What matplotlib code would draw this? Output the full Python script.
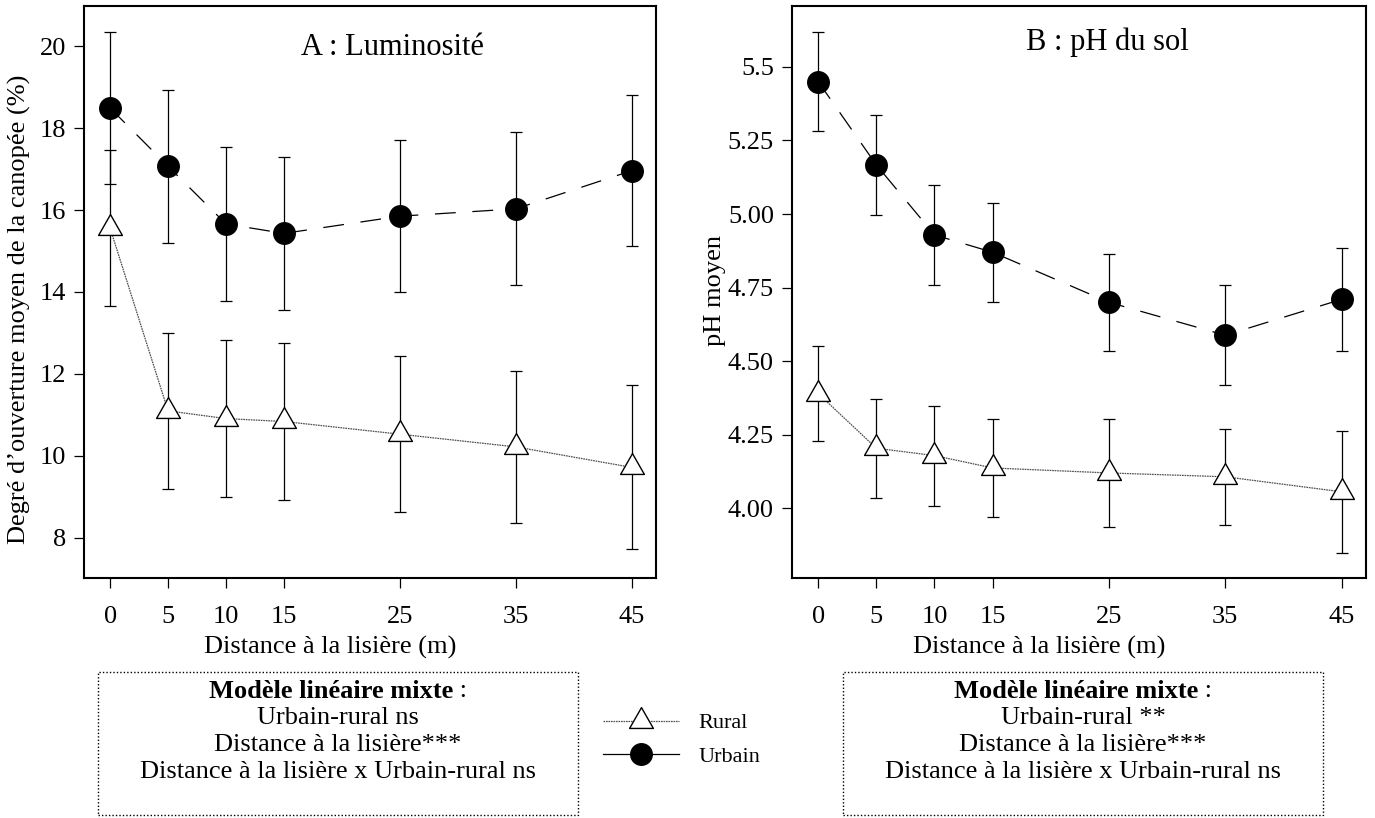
import matplotlib
matplotlib.use("Agg")
import matplotlib.pyplot as plt
from matplotlib.path import Path
from matplotlib.lines import Line2D
from matplotlib.patches import Rectangle

plt.rcParams['font.family'] = ['Liberation Serif', 'DejaVu Serif']
plt.rcParams['lines.scale_dashes'] = False

# ---------------- data ----------------
distances = [0, 5, 10, 15, 25, 35, 45]

lum_rural = [15.56, 11.10, 10.91, 10.84, 10.53, 10.22, 9.72]
lum_rural_err = [1.90, 1.90, 1.91, 1.91, 1.90, 1.86, 2.00]
lum_urbain = [18.49, 17.07, 15.66, 15.43, 15.85, 16.03, 16.96]
lum_urbain_err = [1.86, 1.87, 1.87, 1.87, 1.86, 1.87, 1.84]

ph_rural = [4.39, 4.204, 4.179, 4.137, 4.12, 4.107, 4.056]
ph_rural_err = [0.16, 0.168, 0.17, 0.168, 0.185, 0.163, 0.207]
ph_urbain = [5.45, 5.167, 4.929, 4.87, 4.70, 4.588, 4.71]
ph_urbain_err = [0.169, 0.17, 0.17, 0.169, 0.165, 0.17, 0.175]

lum_yticks = [8, 10, 12, 14, 16, 18, 20]
lum_yticklabels = ['8', '10', '12', '14', '16', '18', '20']
ph_yticks = [4.00, 4.25, 4.50, 4.75, 5.00, 5.25, 5.5]
ph_yticklabels = ['4.00', '4.25', '4.50', '4.75', '5.00', '5.25', '5.5']

title_A = "A : Luminosité"
title_B = "B : pH du sol"
ylabel_A = "Degré d\u2019ouverture moyen de la canopée (%)"
ylabel_B = "pH moyen"
xlabel = "Distance à la lisière (m)"
box_A = ["Urbain-rural ns", "Distance à la lisière***",
         "Distance à la lisière x Urbain-rural ns"]
box_B = ["Urbain-rural **", "Distance à la lisière***",
         "Distance à la lisière x Urbain-rural ns"]
legend_labels = ["Rural", "Urbain"]

# ---------------- figure ----------------
W, H = 1375, 818
fig = plt.figure(figsize=(W / 100, H / 100), dpi=100)

def fx(px):
    return px / W

def fy(py):
    return 1 - py / H

axL = fig.add_axes([fx(84), fy(578), 572 / W, 572 / H])
axR = fig.add_axes([fx(792), fy(578), 574 / W, 572 / H])

tri = Path([(0, 14), (-12, -7), (12, -7), (0, 14)],
           [Path.MOVETO, Path.LINETO, Path.LINETO, Path.CLOSEPOLY])

rural_ls = (0, (1.2, 0.6))
urb_ls = (0, (15, 12))

def draw_panel(ax, r, re, u, ue, ylim, yticks, yticklabels, title, tx, ty):
    ax.errorbar(distances, r, yerr=re, fmt='none', ecolor='black',
                elinewidth=0.9, capsize=4, capthick=0.9, zorder=2)
    ax.errorbar(distances, u, yerr=ue, fmt='none', ecolor='black',
                elinewidth=0.9, capsize=4, capthick=0.9, zorder=2)
    ax.plot(distances, r, color='0.3', lw=0.9, ls=rural_ls, marker=tri,
            ms=20, mfc='white', mec='black', mew=1.0, zorder=4)
    ax.plot(distances, u, color='black', lw=0.9, ls=urb_ls, marker='o',
            ms=15.5, mfc='black', mec='black', zorder=3)
    ax.set_xlim(-2.25, 47.1)
    ax.set_ylim(*ylim)
    ax.set_xticks(distances)
    ax.set_xticklabels([str(d) for d in distances])
    ax.set_yticks(yticks)
    ax.set_yticklabels(yticklabels)
    ax.tick_params(direction='out', length=7, width=0.9, labelsize=19,
                   color='black')
    ax.tick_params(axis='x', pad=13)
    ax.tick_params(axis='y', pad=6)
    for s in ax.spines.values():
        s.set_linewidth(1.5)
    ax.text(tx, ty, title, transform=ax.transAxes, ha='center', va='center',
            fontsize=22)
    ax.set_xlabel(xlabel, fontsize=19)
    ax.xaxis.label.set_va('center')
    ax.xaxis.set_label_coords(0.43, -0.1206)

draw_panel(axL, lum_rural, lum_rural_err, lum_urbain, lum_urbain_err,
           (7.02, 20.98), lum_yticks, lum_yticklabels, title_A, 0.54, 0.928)
draw_panel(axR, ph_rural, ph_rural_err, ph_urbain, ph_urbain_err,
           (3.763, 5.707), ph_yticks, ph_yticklabels, title_B, 0.55, 0.936)

axL.set_ylabel(ylabel_A, fontsize=19)
axL.yaxis.label.set_va('center')
axL.yaxis.set_label_coords(-0.112, 0.469)
axR.set_ylabel(ylabel_B, fontsize=19)
axR.yaxis.label.set_va('center')
axR.yaxis.set_label_coords(-0.134, 0.502)

# ---------------- boxes ----------------
renderer = fig.canvas.get_renderer()

def draw_box(x0, x1, lines):
    fig.patches.append(Rectangle((fx(x0), fy(815)), (x1 - x0) / W, (815 - 672) / H,
                                 transform=fig.transFigure, fill=False,
                                 lw=1.0, ls=(0, (1, 1.5)), ec='black'))
    cx = (x0 + x1) / 2
    tb = fig.text(0, fy(691), "Modèle linéaire mixte", fontsize=19,
                  weight='bold', ha='left', va='center')
    tn = fig.text(0, fy(691), " :", fontsize=19, ha='left', va='center')
    wb = tb.get_window_extent(renderer).width
    wn = tn.get_window_extent(renderer).width
    start = cx - (wb + wn) / 2
    tb.set_x(fx(start))
    tn.set_x(fx(start + wb))
    for i, s in enumerate(lines):
        fig.text(fx(cx), fy(718 + 27 * i), s, fontsize=19, ha='center',
                 va='center')

draw_box(98, 578, box_A)
draw_box(843, 1323, box_B)

# ---------------- legend ----------------
h_r = Line2D([], [], color='0.3', lw=0.9, ls=rural_ls, marker=tri, ms=20,
             mfc='white', mec='black', mew=1.0)
h_u = Line2D([], [], color='black', lw=0.9, ls='-', marker='o', ms=15.5,
             mfc='black', mec='black')
fig.legend([h_r, h_u], legend_labels, loc='center left',
           bbox_to_anchor=(fx(603), fy(740)), frameon=False, fontsize=16,
           handlelength=3.4, handletextpad=0.9, labelspacing=0.6,
           borderpad=0, borderaxespad=0)

fig.savefig("out.png", dpi=100)
